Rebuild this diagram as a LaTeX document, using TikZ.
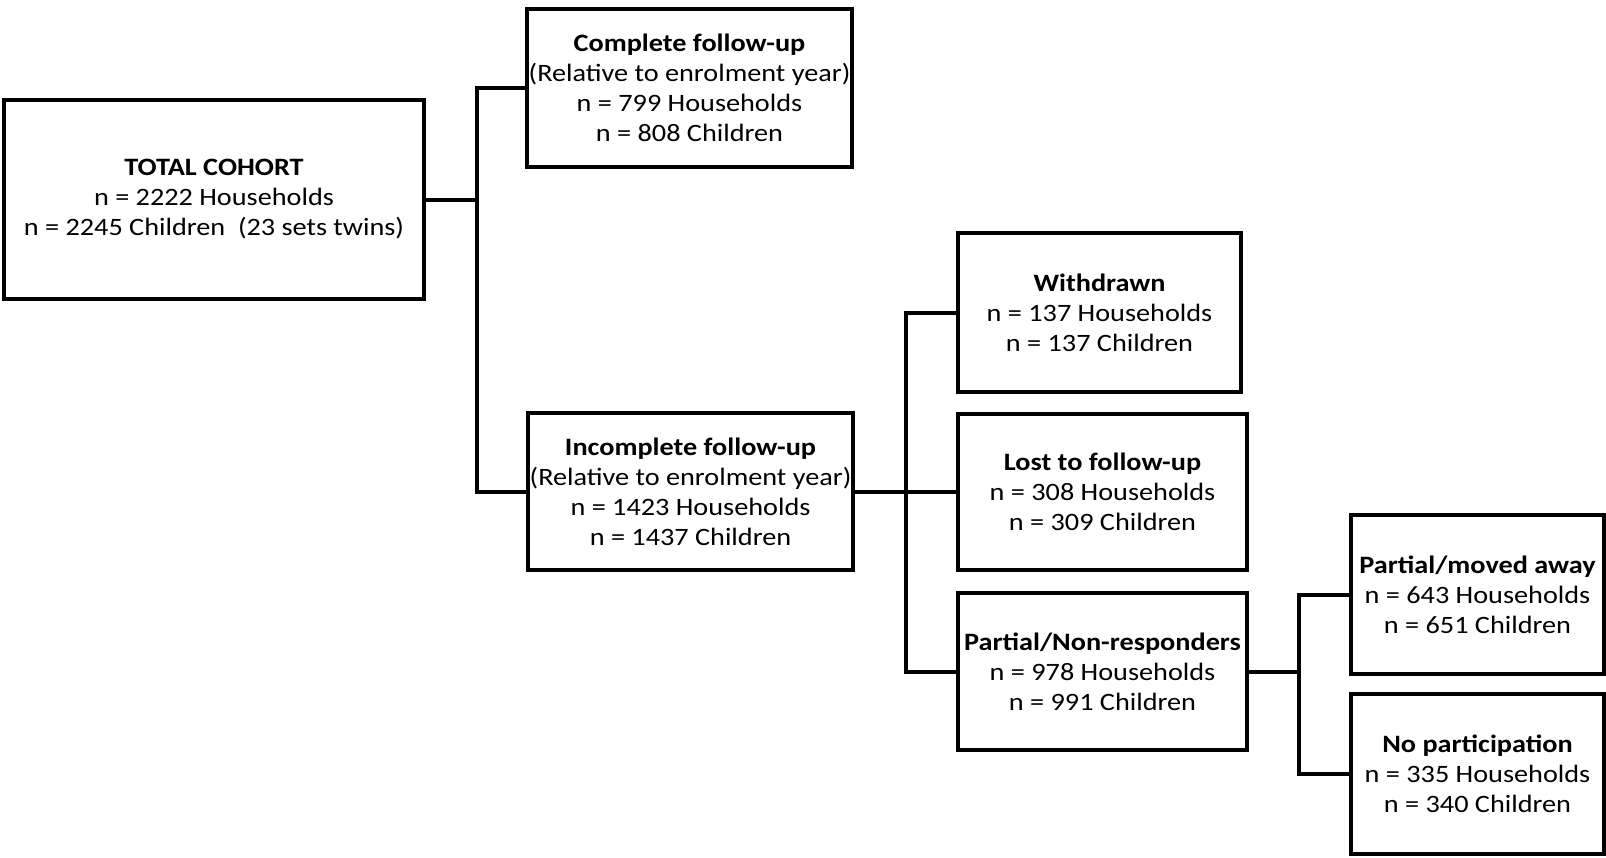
\documentclass[tikz,border=0pt]{standalone}
\usepackage{fontspec}
\setmainfont{Carlito}[FakeStretch=1.13]
\usepackage{tikz}
\usetikzlibrary{positioning}

\begin{document}
\begin{tikzpicture}[x=0.5pt, y=-0.5pt,
    box/.style={draw, line width=2pt, align=center, inner sep=0pt,
      font=\fontsize{12.5}{15}\selectfont},
    link/.style={line width=2pt}]
  \useasboundingbox (0, 0) rectangle (1606, 857);

  \node (total) at (214, 199.5) [box, minimum width=210pt, minimum height=99.5pt]
    {\textbf{TOTAL COHORT}\\n = 2222 Households\\n = 2245 Children\ \ (23 sets twins)};

  \node (complete) at (689.5, 88) [box, minimum width=162.5pt, minimum height=79pt]
    {\textbf{Complete follow-up}\\(Relative to enrolment year)\\n = 799 Households\\n = 808 Children};
  \node (incomplete) at (690.5, 491.5) [box, minimum width=162.5pt, minimum height=78.5pt]
    {\textbf{Incomplete follow-up}\\(Relative to enrolment year)\\n = 1423 Households\\n = 1437 Children};

  \node (withdrawn) at (1099.5, 312.5) [box, minimum width=141.5pt, minimum height=79.5pt]
    {\textbf{Withdrawn}\\n = 137 Households\\n = 137 Children};
  \node (lost) at (1102.5, 491.5) [box, minimum width=144.5pt, minimum height=78pt]
    {\textbf{Lost to follow-up}\\n = 308 Households\\n = 309 Children};
  \node (partial) at (1102.5, 671.5) [box, minimum width=144.5pt, minimum height=78.5pt]
    {\textbf{Partial/Non-responders}\\n = 978 Households\\n = 991 Children};

  \node (moved) at (1477.5, 594.5) [box, minimum width=126.5pt, minimum height=79.5pt]
    {\textbf{Partial/moved away}\\n = 643 Households\\n = 651 Children};
  \node (nopart) at (1477.5, 774) [box, minimum width=126.5pt, minimum height=80pt]
    {\textbf{No participation}\\n = 335 Households\\n = 340 Children};

  % branch points
  \coordinate (split1) at (477, 199.5);
  \coordinate (split2) at (905.5, 491.5);
  \coordinate (split3) at (1299, 671.5);

  \draw[link] (total.east) -- (split1);
  \draw[link] (complete.west) -| (split1) |- (incomplete.west);

  \draw[link] (incomplete.east) -- (split2) -- (lost.west);
  \draw[link] (withdrawn.west) -| (split2) |- (partial.west);

  \draw[link] (partial.east) -- (split3);
  \draw[link] (moved.west) -| (split3) |- (nopart.west);
\end{tikzpicture}
\end{document}
